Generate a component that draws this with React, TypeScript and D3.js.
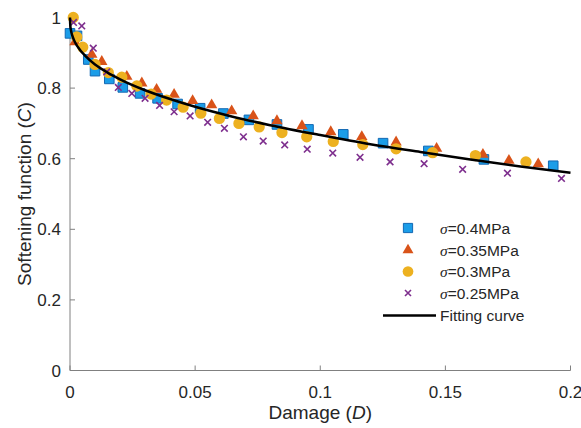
import React from "react";
import * as d3 from "d3";

// sigma = 0.4 MPa (squares)
const s04D = [0.0, 0.0028, 0.0073, 0.010, 0.0157, 0.0211, 0.028, 0.035, 0.043, 0.052, 0.0613, 0.0715, 0.0827, 0.0953, 0.1092, 0.1251, 0.1432, 0.1654, 0.1931];
const s04C = [0.955, 0.948, 0.881, 0.848, 0.826, 0.802, 0.785, 0.771, 0.755, 0.743, 0.728, 0.710, 0.697, 0.683, 0.669, 0.644, 0.622, 0.598, 0.580];

// sigma = 0.35 MPa (triangles)
const s035D = [0.002, 0.0087, 0.0127, 0.0227, 0.0287, 0.0346, 0.0416, 0.049, 0.0566, 0.0646, 0.0732, 0.0827, 0.0927, 0.1042, 0.1166, 0.1303, 0.1465, 0.165, 0.1754, 0.1871];
const s035C = [0.931, 0.895, 0.875, 0.833, 0.814, 0.796, 0.782, 0.764, 0.752, 0.735, 0.721, 0.707, 0.693, 0.676, 0.662, 0.647, 0.629, 0.612, 0.595, 0.585];

// sigma = 0.3 MPa (circles)
const s03D = [0.0013, 0.0027, 0.0051, 0.010, 0.0153, 0.0207, 0.0267, 0.0324, 0.0386, 0.0452, 0.0523, 0.0597, 0.0675, 0.0756, 0.0847, 0.0946, 0.1052, 0.117, 0.1303, 0.1449, 0.162, 0.1822];
const s03C = [1.0, 0.945, 0.916, 0.867, 0.844, 0.831, 0.806, 0.783, 0.766, 0.746, 0.729, 0.714, 0.700, 0.690, 0.674, 0.662, 0.649, 0.640, 0.628, 0.617, 0.609, 0.591];

// sigma = 0.25 MPa (crosses)
const s025D = [0.0014, 0.0047, 0.0093, 0.0147, 0.0193, 0.0247, 0.030, 0.0358, 0.0416, 0.048, 0.055, 0.0617, 0.0693, 0.0772, 0.0858, 0.0948, 0.105, 0.1159, 0.1279, 0.1415, 0.1569, 0.1748, 0.1964];
const s025C = [0.986, 0.976, 0.913, 0.846, 0.802, 0.785, 0.771, 0.751, 0.733, 0.721, 0.703, 0.686, 0.662, 0.650, 0.639, 0.627, 0.616, 0.604, 0.591, 0.586, 0.570, 0.559, 0.544];

// fitting curve
const fitD = [0, 0.0001, 0.0003, 0.001, 0.002, 0.004, 0.006, 0.01, 0.015, 0.02, 0.03, 0.04, 0.05, 0.065, 0.08, 0.1, 0.12, 0.14, 0.16, 0.18, 0.2];
const fitC = [1.0, 0.979, 0.967, 0.947, 0.930, 0.908, 0.892, 0.867, 0.844, 0.825, 0.794, 0.769, 0.747, 0.719, 0.695, 0.667, 0.641, 0.619, 0.598, 0.578, 0.560];

const xTicks = [0, 0.05, 0.1, 0.15, 0.2];
const xTickLabels = ["0", "0.05", "0.1", "0.15", "0.2"];
const yTicks = [0, 0.2, 0.4, 0.6, 0.8, 1];
const yTickLabels = ["0", "0.2", "0.4", "0.6", "0.8", "1"];
const legendLabels = ["=0.4MPa", "=0.35MPa", "=0.3MPa", "=0.25MPa"];

const W = 581;
const H = 428;
const FONT = "'Liberation Sans', Arial, sans-serif";

const BLUE_FILL = "#1B9DE8";
const BLUE_EDGE = "#1268B3";
const ORANGE = "#D95319";
const YELLOW = "#EDB120";
const PURPLE = "#7E2F8E";

export default function App() {
  const x = d3.scaleLinear().domain([0, 0.2]).range([70, 570.5]);
  const y = d3.scaleLinear().domain([0, 1]).range([370.5, 17.5]);

  const sq = d3.symbol(d3.symbolSquare, 92)()!;
  const tri = d3.symbol(d3.symbolTriangle, 56)()!;
  const circ = d3.symbol(d3.symbolCircle, 100)()!;

  const line = d3
    .line<number>()
    .x((_, i) => x(fitD[i]))
    .y((d) => y(d))
    .curve(d3.curveMonotoneX);

  const cross = (cx: number, cy: number, r: number, key: string | number) => (
    <path
      key={key}
      d={`M${cx - r},${cy - r}L${cx + r},${cy + r}M${cx - r},${cy + r}L${cx + r},${cy - r}`}
      stroke={PURPLE}
      strokeWidth={1.6}
      fill="none"
    />
  );

  const legendX = 408;
  const legendTextX = 440;
  const legendY = [228, 250, 271.5, 293, 315.5];

  return (
    <svg
      width={W}
      height={H}
      style={{ position: "absolute", left: 0, top: 0, background: "#fff" }}
      fontFamily={FONT}
    >
      <rect x={0} y={0} width={W} height={H} fill="#fff" />

      {/* axes */}
      <g stroke="#808080" strokeWidth={1} fill="none">
        <line x1={x(0)} x2={x(0.2)} y1={y(0)} y2={y(0)} />
        <line x1={x(0)} x2={x(0)} y1={y(0)} y2={y(1)} />
        {xTicks.map((t, i) => (
          <line key={"xt" + i} x1={x(t)} x2={x(t)} y1={y(0)} y2={y(0) - 5} />
        ))}
        {yTicks.map((t, i) => (
          <line key={"yt" + i} x1={x(0)} x2={x(0) + 5} y1={y(t)} y2={y(t)} />
        ))}
      </g>

      {/* tick labels */}
      <g fill="#262626" fontSize={17}>
        {xTicks.map((t, i) => (
          <text key={"xl" + i} x={x(t)} y={398} textAnchor="middle">
            {xTickLabels[i]}
          </text>
        ))}
        {yTicks.map((t, i) => (
          <text key={"yl" + i} x={61} y={y(t) + 6} textAnchor="end">
            {yTickLabels[i]}
          </text>
        ))}
      </g>

      {/* axis labels */}
      <text x={(x(0) + x(0.2)) / 2} y={419} textAnchor="middle" fontSize={19} fill="#262626">
        Damage (<tspan fontStyle="italic">D</tspan>)
      </text>
      <text
        transform={`translate(31,${(y(0) + y(1)) / 2}) rotate(-90)`}
        textAnchor="middle"
        fontSize={19}
        fill="#262626"
      >
        Softening function (<tspan fontStyle="italic">C</tspan>)
      </text>

      {/* data */}
      <g>
        {s04D.map((d, i) => (
          <path
            key={"sq" + i}
            d={sq}
            transform={`translate(${x(d)},${y(s04C[i])})`}
            fill={BLUE_FILL}
            stroke={BLUE_EDGE}
            strokeWidth={1}
          />
        ))}
        {s035D.map((d, i) => (
          <path
            key={"tr" + i}
            d={tri}
            transform={`translate(${x(d)},${y(s035C[i])})`}
            fill={ORANGE}
          />
        ))}
        {s03D.map((d, i) => (
          <path
            key={"ci" + i}
            d={circ}
            transform={`translate(${x(d)},${y(s03C[i])})`}
            fill={YELLOW}
          />
        ))}
        {s025D.map((d, i) => cross(x(d), y(s025C[i]), 3.3, "x" + i))}
      </g>

      <path d={line(fitC)!} fill="none" stroke="#000" strokeWidth={2.5} />

      {/* legend */}
      <g fontSize={15.5} fill="#262626">
        <path d={d3.symbol(d3.symbolSquare, 85)()!} transform={`translate(${legendX},${legendY[0]})`} fill={BLUE_FILL} stroke={BLUE_EDGE} />
        <path d={d3.symbol(d3.symbolTriangle, 52)()!} transform={`translate(${legendX},${legendY[1]})`} fill={ORANGE} />
        <path d={d3.symbol(d3.symbolCircle, 90)()!} transform={`translate(${legendX},${legendY[2]})`} fill={YELLOW} />
        {cross(legendX, legendY[3], 3, "lx")}
        <line x1={383} x2={436} y1={legendY[4]} y2={legendY[4]} stroke="#000" strokeWidth={2.5} />
        {legendLabels.map((l, i) => (
          <text key={"lg" + i} x={legendTextX} y={legendY[i] + 5.5}>
            <tspan fontFamily="'Liberation Serif', 'Times New Roman', serif" fontStyle="italic">
              σ
            </tspan>
            {l}
          </text>
        ))}
        <text x={legendTextX} y={legendY[4] + 5.5}>
          Fitting curve
        </text>
      </g>
    </svg>
  );
}
